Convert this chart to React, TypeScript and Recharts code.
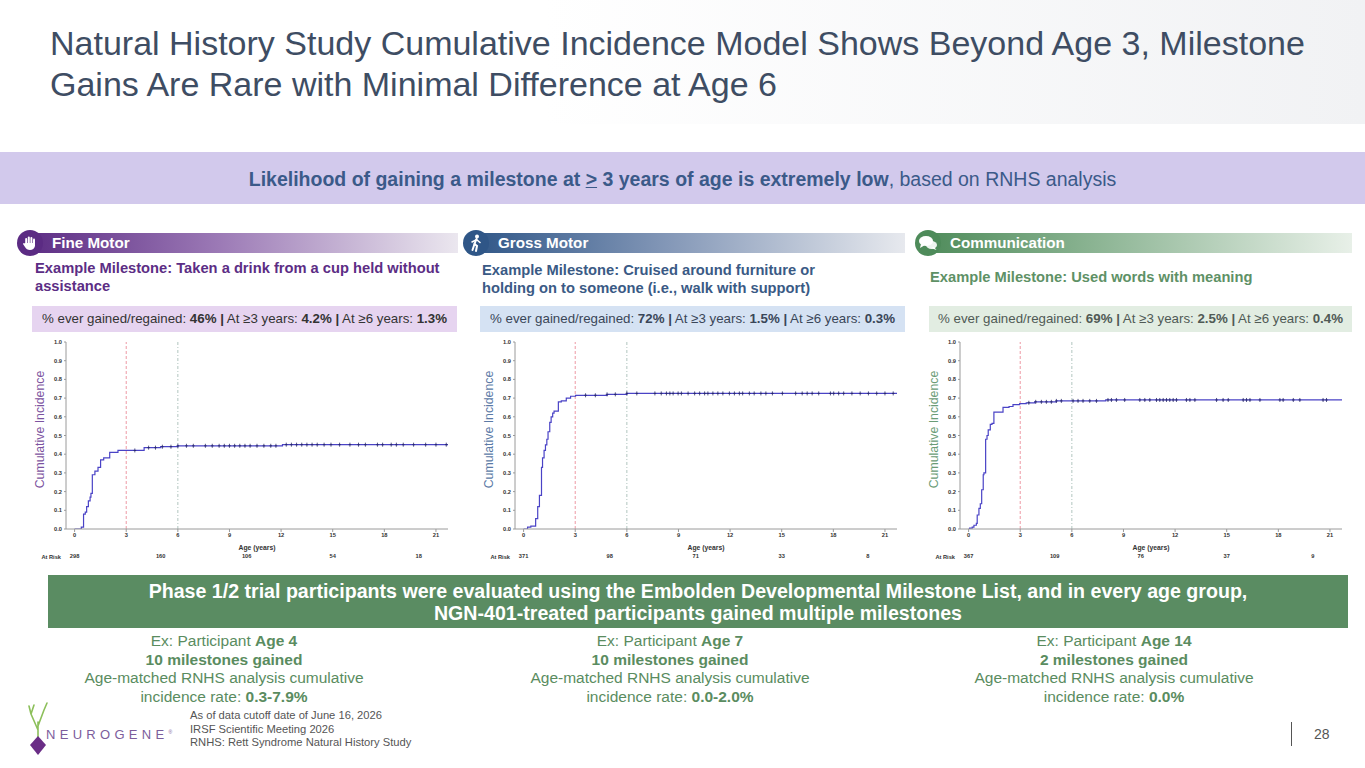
import React from 'react';
import { ComposedChart, Line, Scatter, XAxis, YAxis, ReferenceLine } from 'recharts';

// ---------- shared axis ticks ----------
const xTicks = [0, 3, 6, 9, 12, 15, 18, 21];
const yTicks = [0, 0.1, 0.2, 0.3, 0.4, 0.5, 0.6, 0.7, 0.8, 0.9, 1.0];
const riskTicks = [0, 5, 10, 15, 20];

// ---------- Fine Motor ----------
const fineTimes = [0, 0.39, 0.52, 0.62, 0.7, 0.8, 0.9, 0.95, 1.03, 1.18, 1.36, 1.51, 1.69, 2.04, 2.52, 4.04, 5.0, 6.0, 12.08, 21.7];
const fineValues = [0, 0.01, 0.08, 0.09, 0.12, 0.15, 0.17, 0.19, 0.29, 0.31, 0.33, 0.37, 0.38, 0.41, 0.42, 0.435, 0.44, 0.445, 0.451, 0.451];
const fineCensor = [3.5, 4.3, 4.7, 5.1, 5.6, 6.0, 6.5, 6.9, 7.6, 8.0, 8.4, 8.7, 9.0, 9.3, 9.6, 9.9, 10.2, 10.6, 11.0, 11.4, 11.7, 12.3, 12.6, 12.9, 13.2, 13.5, 13.8, 14.1, 14.5, 14.9, 15.4, 16.0, 16.5, 16.9, 17.6, 17.9, 18.4, 18.7, 19.1, 19.7, 20.4, 21.0, 21.6];
const fineAtRisk = [298, 160, 106, 54, 18];

// ---------- Gross Motor ----------
const grossTimes = [0, 0.23, 0.42, 0.7, 0.82, 0.92, 1.04, 1.1, 1.19, 1.27, 1.35, 1.42, 1.52, 1.6, 1.69, 1.77, 2.02, 2.19, 2.48, 2.73, 3.02, 4.85, 6.0, 21.7];
const grossValues = [0, 0.01, 0.015, 0.055, 0.12, 0.18, 0.33, 0.38, 0.42, 0.45, 0.48, 0.52, 0.57, 0.6, 0.62, 0.63, 0.68, 0.685, 0.7, 0.71, 0.715, 0.72, 0.725, 0.725];
const grossCensor = [3.6, 4.17, 4.85, 5.33, 6.0, 6.58, 7.63, 8.0, 8.3, 8.5, 8.69, 8.98, 9.17, 9.56, 9.94, 10.23, 10.52, 10.71, 11.0, 11.29, 11.58, 11.96, 12.25, 12.54, 12.73, 13.12, 13.4, 13.79, 14.08, 14.46, 15.04, 15.81, 16.19, 16.48, 16.77, 17.15, 17.83, 18.02, 18.31, 18.6, 19.08, 19.56, 20.04, 20.52, 21.0, 21.48];
const grossAtRisk = [371, 98, 71, 33, 8];

// ---------- Communication ----------
const commTimes = [0, 0.06, 0.21, 0.31, 0.45, 0.5, 0.6, 0.68, 0.76, 0.85, 0.89, 0.99, 1.07, 1.14, 1.26, 1.36, 1.47, 2.0, 2.35, 2.58, 2.97, 3.35, 3.84, 5.1, 7.97, 21.7];
const commValues = [0, 0.005, 0.01, 0.02, 0.03, 0.075, 0.11, 0.135, 0.21, 0.29, 0.3, 0.48, 0.5, 0.53, 0.56, 0.565, 0.625, 0.65, 0.655, 0.665, 0.67, 0.675, 0.68, 0.685, 0.69, 0.69];
const commCensor = [3.5, 3.9, 4.23, 4.52, 4.81, 5.1, 5.39, 6.07, 6.36, 6.65, 7.04, 7.43, 8.1, 8.3, 8.59, 9.07, 9.95, 10.24, 10.53, 10.92, 11.11, 11.31, 11.5, 11.69, 11.89, 12.08, 12.66, 12.86, 13.15, 14.41, 14.79, 15.09, 15.96, 16.15, 16.35, 16.93, 18.09, 18.28, 18.87, 19.25, 20.6, 20.8];
const commAtRisk = [367, 109, 76, 37, 9];

const FONT = '"Liberation Sans", Arial, Helvetica, sans-serif';

function stepValue(times: number[], values: number[], t: number) {
  let v = values[0];
  for (let i = 0; i < times.length; i++) if (times[i] <= t) v = values[i];
  return v;
}

const tickStyle = { fontSize: 5.7, fontWeight: 700, fill: '#333', fontFamily: FONT };

const CensorMark = (props: any) => {
  const { cx, cy } = props;
  if (cx == null || cy == null) return null;
  return (
    <g>
      <line x1={cx} x2={cx} y1={cy - 2} y2={cy + 2} stroke="#27276a" strokeWidth={0.8} />
      <line x1={cx - 1.3} x2={cx + 1.3} y1={cy} y2={cy} stroke="#27276a" strokeWidth={0.8} />
    </g>
  );
};

function KMPanel(props: {
  left: number;
  times: number[];
  values: number[];
  censor: number[];
  atRisk: number[];
  labelColor: string;
}) {
  const { left, times, values, censor, atRisk, labelColor } = props;
  const curve = times.map((t, i) => ({ t, v: values[i] }));
  const marks = censor.map((t) => ({ t, v: stepValue(times, values, t) }));
  return (
    <div style={{ position: 'absolute', left, top: 335 }}>
      <ComposedChart width={440} height={230} margin={{ top: 7, right: 12, bottom: 2, left: 0 }}>
        <XAxis
          xAxisId="age"
          dataKey="t"
          type="number"
          domain={[-0.5, 21.7]}
          allowDataOverflow
          ticks={xTicks}
          interval={0}
          height={24}
          tickSize={3}
          tickMargin={1}
          axisLine={{ stroke: '#9a9a9a' }}
          tickLine={{ stroke: '#9a9a9a' }}
          tick={tickStyle}
          label={(p: any) => {
            const vb = p.viewBox;
            return (
              <text x={vb.x + vb.width / 2} y={vb.y + 21} textAnchor="middle" fontSize={6.8} fontWeight={700} fill="#333" fontFamily={FONT}>
                Age (years)
              </text>
            );
          }}
        />
        <XAxis
          xAxisId="risk"
          dataKey="t"
          type="number"
          domain={[-0.5, 21.7]}
          allowDataOverflow
          ticks={riskTicks}
          interval={0}
          height={10}
          tickSize={0}
          tickMargin={1}
          axisLine={false}
          tickLine={false}
          tick={tickStyle}
          tickFormatter={(t: number) => String(atRisk[riskTicks.indexOf(t)] ?? '')}
          label={(p: any) => {
            const vb = p.viewBox;
            return (
              <text x={vb.x - 5} y={vb.y + 6} textAnchor="end" fontSize={5.7} fontWeight={700} fill="#333" fontFamily={FONT}>
                At Risk
              </text>
            );
          }}
        />
        <YAxis
          dataKey="v"
          type="number"
          domain={[0, 1]}
          allowDataOverflow
          ticks={yTicks}
          interval={0}
          width={46}
          tickSize={2}
          tickMargin={2}
          axisLine={{ stroke: '#9a9a9a' }}
          tickLine={{ stroke: '#9a9a9a' }}
          tick={tickStyle}
          tickFormatter={(v: number) => v.toFixed(1)}
          label={(p: any) => {
            const vb = p.viewBox;
            const cx = vb.x + 20;
            const cy = vb.y + vb.height / 2 - 6;
            return (
              <text
                x={cx}
                y={cy}
                transform={`rotate(-90 ${cx} ${cy})`}
                textAnchor="middle"
                dominantBaseline="central"
                fontSize={12.3}
                fill={labelColor}
                fontFamily={FONT}
              >
                Cumulative Incidence
              </text>
            );
          }}
        />
        <ReferenceLine xAxisId="age" x={3} stroke="#e8808e" strokeWidth={0.8} strokeDasharray="3 2" />
        <ReferenceLine xAxisId="age" x={6} stroke="#9db8ae" strokeWidth={0.8} strokeDasharray="3 2 1 2" />
        <Line
          xAxisId="age"
          data={curve}
          dataKey="v"
          type="stepAfter"
          stroke="#4a43c6"
          strokeWidth={1.2}
          dot={false}
          activeDot={false}
          isAnimationActive={false}
        />
        <Scatter xAxisId="age" data={marks} dataKey="v" shape={CensorMark} isAnimationActive={false} />
      </ComposedChart>
    </div>
  );
}

const abs = (s: React.CSSProperties): React.CSSProperties => ({ position: 'absolute', ...s });

function HandIcon() {
  return (
    <svg width="16" height="16" viewBox="0 0 16 16">
      <rect x="3.2" y="3" width="2" height="7" rx="1" fill="#fff" />
      <rect x="5.8" y="1.6" width="2" height="8" rx="1" fill="#fff" />
      <rect x="8.4" y="2" width="2" height="8" rx="1" fill="#fff" />
      <rect x="11" y="3.5" width="2" height="7" rx="1" fill="#fff" />
      <path d="M3 8 L13 8 L13 11 Q12 15 8 15 Q4.5 15 3 12 L1 9 Q1.5 7.5 3 8.5 Z" fill="#fff" />
    </svg>
  );
}

function WalkIcon() {
  return (
    <svg width="16" height="18" viewBox="0 0 16 18">
      <circle cx="9" cy="2.5" r="2" fill="#fff" />
      <path d="M8.5 5 L6.5 10 L9 12 L8 17" stroke="#fff" strokeWidth="2" fill="none" strokeLinecap="round" />
      <path d="M6.5 10 L4.5 16" stroke="#fff" strokeWidth="2" fill="none" strokeLinecap="round" />
      <path d="M8.5 5.5 L12 8.5 M8 6 L4 8" stroke="#fff" strokeWidth="1.6" fill="none" strokeLinecap="round" />
    </svg>
  );
}

function ChatIcon() {
  return (
    <svg width="20" height="16" viewBox="0 0 20 16">
      <ellipse cx="8" cy="6" rx="7" ry="5" fill="#fff" />
      <path d="M3 9 L2 13 L7 10 Z" fill="#fff" />
      <ellipse cx="13.5" cy="10" rx="5.5" ry="4" fill="#fff" opacity="0.9" />
      <path d="M16 12 L18.5 15 L13 13 Z" fill="#fff" />
    </svg>
  );
}

function Header(props: { left: number; width: number; color: string; mid: string; end: string; title: string; icon: React.ReactNode }) {
  const { left, width, color, mid, end, title, icon } = props;
  return (
    <>
      <div
        style={abs({
          left: left + 8,
          top: 233,
          width: width - 8,
          height: 20,
          background: `linear-gradient(90deg, ${color} 0%, ${mid} 45%, ${end} 100%)`,
        })}
      />
      <div
        style={abs({
          left,
          top: 230,
          width: 26,
          height: 26,
          borderRadius: 13,
          background: color,
          display: 'flex',
          alignItems: 'center',
          justifyContent: 'center',
        })}
      >
        {icon}
      </div>
      <div style={abs({ left: left + 35, top: 233, height: 20, lineHeight: '20px', fontSize: 15.2, fontWeight: 700, color: '#fff', whiteSpace: 'nowrap' })}>
        {title}
      </div>
    </>
  );
}

function StatBox(props: { left: number; width: number; bg: string; color: string; a: string; b: string; c: string }) {
  const { left, width, bg, color, a, b, c } = props;
  return (
    <div
      style={abs({
        left,
        top: 306,
        width,
        height: 26,
        lineHeight: '26px',
        background: bg,
        color,
        fontSize: 13.3,
        textAlign: 'center',
        whiteSpace: 'nowrap',
      })}
    >
      % ever gained/regained: <b>{a} |</b> At ≥3 years: <b>{b} |</b> At ≥6 years: <b>{c}</b>
    </div>
  );
}

function Participant(props: { center: number; age: string; gained: string; rate: string }) {
  const { center, age, gained, rate } = props;
  return (
    <div
      style={abs({
        left: center - 200,
        top: 632,
        width: 400,
        textAlign: 'center',
        fontSize: 15.5,
        lineHeight: '18.6px',
        color: '#5a8c60',
        whiteSpace: 'nowrap',
      })}
    >
      Ex: Participant <b>{age}</b>
      <br />
      <b>{gained}</b>
      <br />
      Age-matched RNHS analysis cumulative
      <br />
      incidence rate: <b>{rate}</b>
    </div>
  );
}

export default function App() {
  return (
    <div
      style={{
        position: 'absolute',
        left: 0,
        top: 0,
        width: 1365,
        height: 768,
        overflow: 'hidden',
        background: '#fff',
        fontFamily: FONT,
      }}
    >
      {/* title background */}
      <div style={abs({ left: 0, top: 0, width: 1365, height: 124, background: 'linear-gradient(90deg, #ffffff 0%, #ffffff 40%, #f1f2f4 100%)' })} />
      <div style={abs({ left: 50, top: 23, fontSize: 34, lineHeight: '41px', color: '#3e4d63', whiteSpace: 'nowrap' })}>
        Natural History Study Cumulative Incidence Model Shows Beyond Age 3, Milestone
        <br />
        Gains Are Rare with Minimal Difference at Age 6
      </div>

      {/* lavender banner */}
      <div
        style={abs({
          left: 0,
          top: 152,
          width: 1365,
          height: 52,
          background: '#d2c9ec',
          lineHeight: '55px',
          textAlign: 'center',
          fontSize: 19.5,
          color: '#3b5a89',
          whiteSpace: 'nowrap',
        })}
      >
        <b>
          Likelihood of gaining a milestone at <u>&gt;</u> 3 years of age is extremely low
        </b>
        , based on RNHS analysis
      </div>

      {/* section headers */}
      <Header left={17} width={441} color="#5b2b83" mid="#9c7ab6" end="#ebe7ef" title="Fine Motor" icon={<HandIcon />} />
      <Header left={463} width={442} color="#2f5687" mid="#8397b7" end="#e7e9ee" title="Gross Motor" icon={<WalkIcon />} />
      <Header left={915} width={437} color="#4e8b5a" mid="#93b99a" end="#e8f0e8" title="Communication" icon={<ChatIcon />} />

      {/* example milestones */}
      <div style={abs({ left: 35, top: 259, fontSize: 14.7, lineHeight: '18px', fontWeight: 700, color: '#5c2d85', whiteSpace: 'nowrap' })}>
        Example Milestone: Taken a drink from a cup held without
        <br />
        assistance
      </div>
      <div style={abs({ left: 482, top: 261, fontSize: 14.7, lineHeight: '18px', fontWeight: 700, color: '#3a5a85', whiteSpace: 'nowrap' })}>
        Example Milestone: Cruised around furniture or
        <br />
        holding on to someone (i.e., walk with support)
      </div>
      <div style={abs({ left: 930, top: 268, fontSize: 14.7, lineHeight: '18px', fontWeight: 700, color: '#5e9166', whiteSpace: 'nowrap' })}>
        Example Milestone: Used words with meaning
      </div>

      {/* stat boxes */}
      <StatBox left={32} width={425} bg="#e6d4f0" color="#333" a="46%" b="4.2%" c="1.3%" />
      <StatBox left={480} width={425} bg="#d5e2f3" color="#3a4658" a="72%" b="1.5%" c="0.3%" />
      <StatBox left={929} width={423} bg="#e2ede2" color="#505a55" a="69%" b="2.5%" c="0.4%" />

      {/* charts */}
      <KMPanel left={20} times={fineTimes} values={fineValues} censor={fineCensor} atRisk={fineAtRisk} labelColor="#7c53a0" />
      <KMPanel left={469} times={grossTimes} values={grossValues} censor={grossCensor} atRisk={grossAtRisk} labelColor="#5b7aa6" />
      <KMPanel left={914} times={commTimes} values={commValues} censor={commCensor} atRisk={commAtRisk} labelColor="#6a9c76" />

      {/* green banner */}
      <div
        style={abs({
          left: 48,
          top: 575,
          width: 1300,
          height: 53,
          background: '#5a8c62',
          color: '#fff',
          fontWeight: 700,
          fontSize: 19.6,
          lineHeight: '22px',
          textAlign: 'center',
          paddingTop: 5,
          boxSizing: 'border-box',
          whiteSpace: 'nowrap',
        })}
      >
        Phase 1/2 trial participants were evaluated using the Embolden Developmental Milestone List, and in every age group,
        <br />
        NGN-401-treated participants gained multiple milestones
      </div>

      {/* participants */}
      <Participant center={224} age="Age 4" gained="10 milestones gained" rate="0.3-7.9%" />
      <Participant center={670} age="Age 7" gained="10 milestones gained" rate="0.0-2.0%" />
      <Participant center={1114} age="Age 14" gained="2 milestones gained" rate="0.0%" />

      {/* logo */}
      <svg style={abs({ left: 26, top: 700 })} width="26" height="58" viewBox="0 0 26 58">
        <path d="M12 40 L12 22 M12 30 L5 14 M12 26 L18 10 M5 14 L3 6 M5 14 L8 5 M18 10 L21 3" stroke="#8cbf5a" strokeWidth="1.6" fill="none" strokeLinecap="round" />
        <path d="M12 36 L20 45 L12 55 L4 45 Z" fill="#6a2d86" />
      </svg>
      <div style={abs({ left: 46, top: 727, fontSize: 13, letterSpacing: 4.3, color: '#7c5d9c', whiteSpace: 'nowrap' })}>
        NEUROGENE<span style={{ fontSize: 5, verticalAlign: 'super', letterSpacing: 0 }}>®</span>
      </div>

      {/* footnotes */}
      <div style={abs({ left: 190, top: 709, fontSize: 11.2, lineHeight: '13.5px', color: '#555', whiteSpace: 'nowrap' })}>
        As of data cutoff date of June 16, 2026
        <br />
        IRSF Scientific Meeting 2026
        <br />
        RNHS: Rett Syndrome Natural History Study
      </div>

      {/* page number */}
      <div style={abs({ left: 1291, top: 722, width: 1, height: 24, background: '#555' })} />
      <div style={abs({ left: 1314, top: 726, fontSize: 14, color: '#555' })}>28</div>
    </div>
  );
}
